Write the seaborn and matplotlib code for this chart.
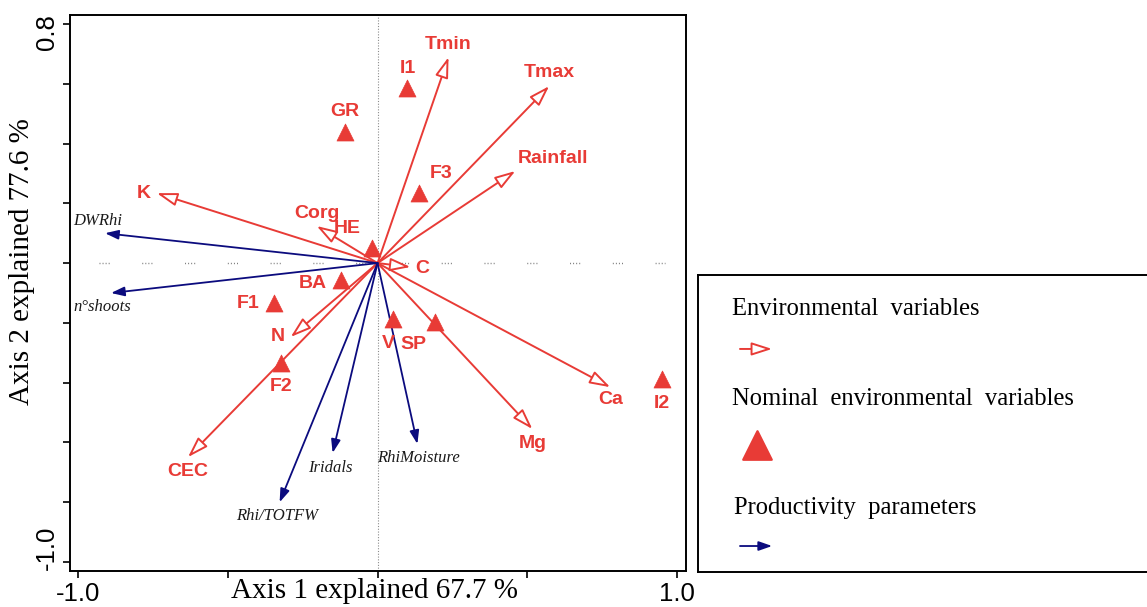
import matplotlib
matplotlib.use('Agg')
import matplotlib.pyplot as plt
import matplotlib.transforms as mtransforms
import seaborn as sns
import pandas as pd
import numpy as np

# ---------------- data ----------------
env_names = ['Tmin', 'Tmax', 'Rainfall', 'C', 'K', 'Corg', 'N', 'CEC', 'Ca', 'Mg']
env_x = [0.237, 0.573, 0.460, 0.110, -0.737, -0.203, -0.290, -0.633, 0.777, 0.517]
env_y = [0.689, 0.592, 0.308, -0.013, 0.234, 0.124, -0.247, -0.649, -0.415, -0.555]

nom_names = ['I1', 'GR', 'F3', 'HE', 'BA', 'F1', 'F2', 'V', 'SP', 'I2']
nom_x = [0.100, -0.110, 0.140, -0.017, -0.123, -0.347, -0.323, 0.050, 0.193, 0.950]
nom_y = [0.585, 0.438, 0.234, 0.050, -0.057, -0.134, -0.334, -0.187, -0.197, -0.388]

prod_names = ['DWRhi', 'n°shoots', 'Iridals', 'Rhi/TOTFW', 'RhiMoisture']
prod_x = [-0.910, -0.890, -0.150, -0.327, 0.133]
prod_y = [0.100, -0.100, -0.635, -0.800, -0.605]

x_ticks = [-1.0, -0.5, 0.0, 0.5, 1.0]
x_ticklabels = ['-1.0', '', '', '', '1.0']
y_ticks = [0.8, 0.6, 0.4, 0.2, 0.0, -0.2, -0.4, -0.6, -0.8, -1.0]
y_ticklabels = ['0.8', '', '', '', '', '', '', '', '', '-1.0']

# label offsets in pixels (dx right, dy up) and alignment
env_off = {'Tmin': (0, 13), 'Tmax': (0, 14), 'Rainfall': (38, 13), 'C': (12, -2),
           'K': (-13, 0), 'Corg': (0, 13), 'N': (-13, 0), 'CEC': (0, -14),
           'Ca': (0, -12), 'Mg': (0, -14)}
nom_off = {'I1': (0, 20), 'GR': (0, 21), 'F3': (22, 20), 'HE': (-25, 20),
           'BA': (-28, -3), 'F1': (-26, 0), 'F2': (0, -24), 'V': (-4, -24),
           'SP': (-22, -23), 'I2': (0, -24)}
prod_off = {'DWRhi': (-32, 12, 'left'), 'n°shoots': (-38, -14, 'left'),
            'Iridals': (-2, -15, 'center'), 'Rhi/TOTFW': (-3, -14, 'center'),
            'RhiMoisture': (1, -14, 'center')}

RED = '#E83B36'
NAVY = '#0B0B7E'
PX = 72 / 100.0  # pixel -> points

ENV_STYLE = '-|>,head_length=1.25,head_width=0.4'
PROD_STYLE = '-|>,head_length=0.8,head_width=0.28'

sns.set_style('ticks')
plt.rcParams['font.family'] = ['Liberation Sans', 'DejaVu Sans']

fig = plt.figure(figsize=(11.47, 6.07), dpi=100)
ax = fig.add_axes([70 / 1147, 36 / 607, 616 / 1147, 556 / 607])
ax.set_xlim(-1.027, 1.03)
ax.set_ylim(-1.03, 0.83)

# dotted reference lines
ax.axvline(0, color='#8c8c8c', lw=0.8, ls=(0, (1, 1.5)), zorder=0)
ax.plot([-0.93, 0.96], [0, 0], color='#7a7a7a', lw=1.0,
        ls=(0, (0.7, 1.5, 0.7, 1.5, 0.7, 1.5, 0.7, 23.5)), zorder=0)

# environmental arrows (open heads)
for n, x, y in zip(env_names, env_x, env_y):
    ax.annotate('', xy=(x, y), xytext=(0, 0),
                arrowprops=dict(arrowstyle=ENV_STYLE, mutation_scale=10, fc='white',
                                ec=RED, lw=1.4, shrinkA=0, shrinkB=0), zorder=2)
    dx, dy = env_off[n]
    ax.annotate(n, xy=(x, y), xytext=(dx * PX, dy * PX), textcoords='offset points',
                ha='center', va='center', color=RED, fontsize=14, fontweight='bold',
                family=['Liberation Sans'])

# productivity arrows (filled heads)
for n, x, y in zip(prod_names, prod_x, prod_y):
    ax.annotate('', xy=(x, y), xytext=(0, 0),
                arrowprops=dict(arrowstyle=PROD_STYLE, mutation_scale=10, fc=NAVY,
                                ec=NAVY, lw=1.3, shrinkA=0, shrinkB=0), zorder=2)
    dx, dy, ha = prod_off[n]
    ax.annotate(n, xy=(x, y), xytext=(dx * PX, dy * PX), textcoords='offset points',
                ha=ha, va='center', color='#1a1a1a', fontsize=12, fontstyle='italic',
                family=['Liberation Serif'])

# nominal variables (triangles)
nom_df = pd.DataFrame({'x': nom_x, 'y': nom_y, 'name': nom_names})
sns.scatterplot(data=nom_df, x='x', y='y', marker='^', s=150, color=RED,
                edgecolor=RED, linewidth=0.5, ax=ax, zorder=3, legend=False)
for n, x, y in zip(nom_names, nom_x, nom_y):
    dx, dy = nom_off[n]
    ax.annotate(n, xy=(x, y), xytext=(dx * PX, dy * PX), textcoords='offset points',
                ha='center', va='center', color=RED, fontsize=14, fontweight='bold',
                family=['Liberation Sans'])

ax.set_xlabel('')
ax.set_ylabel('')
ax.set_xticks(x_ticks)
ax.set_xticklabels(x_ticklabels)
ax.set_yticks(y_ticks)
ax.set_yticklabels(y_ticklabels, rotation=90, va='center')
ax.tick_params(direction='out', length=5, width=1.2, labelsize=18.5, pad=3,
               colors='black', labelcolor='black')
# nudge the two rotated y tick labels as in the reference
ylabs = ax.get_yticklabels()
ylabs[0].set_transform(ylabs[0].get_transform() +
                       mtransforms.ScaledTranslation(0, -8 / 100, fig.dpi_scale_trans))
ylabs[-1].set_transform(ylabs[-1].get_transform() +
                        mtransforms.ScaledTranslation(0, 14 / 100, fig.dpi_scale_trans))
for sp in ax.spines.values():
    sp.set_linewidth(1.4)
    sp.set_color('black')

fig.text(375 / 1147, 1 - 591 / 607, 'Axis 1 explained 67.7 %', ha='center', va='center',
         fontsize=21, color='black', family=['Liberation Serif'])
fig.text(22 / 1147, 1 - 262 / 607, 'Axis 2 explained 77.6 %', ha='center', va='center',
         rotation=90, fontsize=21, color='black', family=['Liberation Serif'])

# legend panel
lax = fig.add_axes([698 / 1147, 35 / 607, 449 / 1147, 297 / 607])
lax.set_xlim(0, 1)
lax.set_ylim(0, 1)
lax.set_xticks([])
lax.set_yticks([])
for k, sp in lax.spines.items():
    sp.set_linewidth(1.4)
    sp.set_color('black')
lax.spines['right'].set_visible(False)

lax.text(0.0757, 0.885, 'Environmental  variables', fontsize=17.7, va='center', ha='left',
         color='black', family=['Liberation Serif'])
lax.annotate('', xy=(0.165, 0.751), xytext=(0.0935, 0.751),
             arrowprops=dict(arrowstyle=ENV_STYLE, mutation_scale=10, fc='white', ec=RED,
                             lw=1.4, shrinkA=0, shrinkB=0))
lax.text(0.0757, 0.583, 'Nominal  environmental  variables', fontsize=17.7, va='center',
         ha='left', color='black', family=['Liberation Serif'])
sns.scatterplot(x=[0.131], y=[0.428], marker='^', s=420, color=RED, edgecolor=RED,
                ax=lax, legend=False)
lax.text(0.08, 0.216, 'Productivity  parameters', fontsize=17.7, va='center', ha='left',
         color='black', family=['Liberation Serif'])
lax.annotate('', xy=(0.165, 0.0875), xytext=(0.0935, 0.0875),
             arrowprops=dict(arrowstyle=PROD_STYLE, mutation_scale=10, fc=NAVY, ec=NAVY,
                             lw=1.3, shrinkA=0, shrinkB=0))
lax.set_xlabel('')
lax.set_ylabel('')

fig.savefig('out.png', dpi=100)
